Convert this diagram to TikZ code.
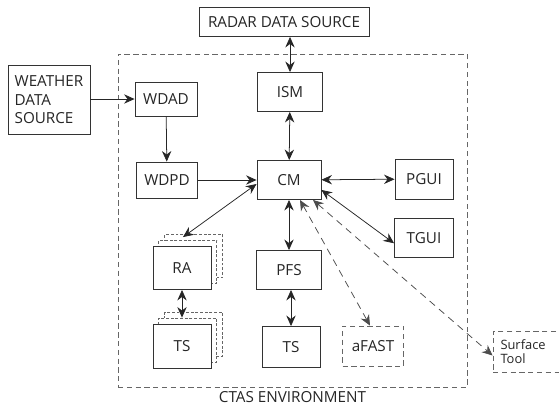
\documentclass[tikz,border=0pt]{standalone}
\usepackage{fontspec}
\setmainfont{Open Sans}
\usetikzlibrary{positioning,calc,shadows,arrows.meta}

\begin{document}
\begin{tikzpicture}[x=0.03cm, y=-0.03cm, >={Stealth[length=9pt,width=8pt,inset=3pt]},
    every node/.style={font=\fontsize{13}{15}\selectfont, text=black!85},
    sz/.style 2 args={minimum width=#1*0.03cm, minimum height=#2*0.03cm},
    box/.style={draw=black!80, line width=0.75pt, fill=white, inner sep=0pt},
    dbox/.style={box, draw=black!60, dash pattern=on 4.5pt off 3pt},
    stack/.style={box, double copy shadow={shadow xshift=5pt, shadow yshift=5pt, opacity=1, fill=white, draw=black!60, line width=0.65pt, dash pattern=on 2.5pt off 1.5pt}},
    link/.style={<->, line width=0.65pt, draw=black!85},
    dlink/.style={link, draw=black!70, dash pattern=on 6pt off 4.5pt}]

    \useasboundingbox (0,0) rectangle (559,410);

    \node[dbox, sz={349}{333}, fill=none] (env) at (292.5,220.5) {};
    \node[below=0pt of env] (envlbl) {CTAS ENVIRONMENT};

    \node[box, sz={170}{29}] (radar) at (284,22) {RADAR DATA SOURCE};
    \node[box, sz={82}{69}, align=left, font=\fontsize{13}{15.8}\selectfont] (wsrc) at (49,100) {WEATHER\\DATA\\SOURCE};
    \node[box, sz={62}{34}] (wdad) at (166,99) {WDAD};
    \node[box, sz={61}{36}] (wdpd) at (167,180) {WDPD};
    \node[box, sz={65}{39}] (ism) at (290,92) {ISM};
    \node[box, sz={64}{39}] (cm) at (289,180) {CM};
    \node[box, sz={58}{40}] (pgui) at (424,179) {PGUI};
    \node[box, sz={59}{39}] (tgui) at (424,238) {TGUI};
    \node[stack, sz={58}{43}] (ra) at (182,268) {RA};
    \node[box, sz={65}{39}] (pfs) at (289,270) {PFS};
    \node[stack, sz={58}{44}] (tsa) at (182,346) {TS};
    \node[box, sz={58}{41}] (tsb) at (291,347) {TS};
    \node[dbox, sz={61}{40}] (afast) at (373,346) {aFAST};
    \node[dbox, sz={77}{41}, align=left, text width=62*0.03cm, font=\fontsize{11}{12.5}\selectfont] (surf) at (531.5,351.5) {Surface\\Tool};

    \draw[link] (ism.north |- radar.south) -- (ism.north);
    \draw[link, <-] (wdad.west) -- (wsrc.east |- wdad.west);
    \draw[link, <-] (wdpd) -- (wdad);
    \draw[link, <-] (cm) -- (wdpd);
    \draw[link] (ism) -- (cm);
    \draw[link] (cm) -- (pgui);
    \draw[link] (cm.-17) -- (tgui.190);
    \draw[link] (cm.187) -- ($(ra.north)+(1,-9)$);
    \draw[link] (cm) -- (pfs);
    \draw[link] (ra) -- ($(tsa.north)+(0,-6)$);
    \draw[link] (tsb.north |- pfs.south) -- (tsb.north);
    \draw[dlink] ($(cm.south)+(11,0)$) -- ($(afast.north)+(-3,0)$);
    \draw[dlink] ($(cm.south)+(24,0)$) -- ($(surf.west)+(0,4)$);
\end{tikzpicture}
\end{document}
